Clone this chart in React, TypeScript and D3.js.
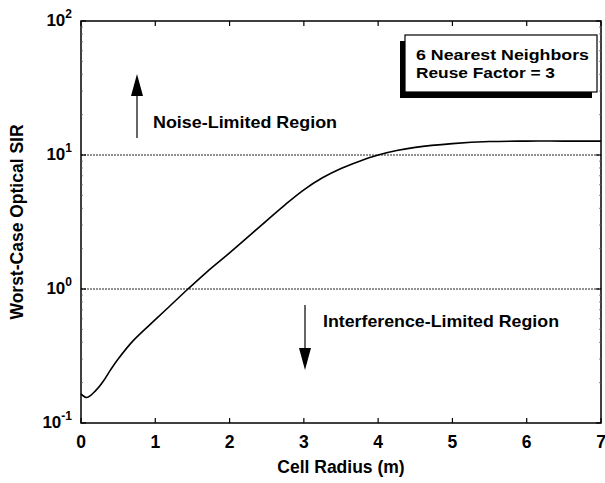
import React from 'react';
import * as d3 from 'd3';

// curve
const radius = [0, 0.08, 0.2, 0.3, 0.4, 0.5, 0.7, 1.0, 1.2, 1.44, 1.7, 2.0, 2.5, 2.75, 3.0, 3.25, 3.5, 3.75, 4.0, 4.25, 4.5, 5.0, 5.5, 6.0, 6.5, 7.0];
const sir = [0.165, 0.155, 0.175, 0.205, 0.25, 0.3, 0.41, 0.59, 0.75, 1.0, 1.35, 1.86, 3.24, 4.27, 5.5, 6.76, 7.94, 9.0, 10.0, 10.8, 11.4, 12.15, 12.6, 12.7, 12.7, 12.7];

const xTicks = [0, 1, 2, 3, 4, 5, 6, 7];
const yDecades = [-1, 0, 1, 2];
const refLevels = [1, 10];
const legendLines = ['6 Nearest Neighbors', 'Reuse Factor = 3'];

const W = 605;
const H = 483;
const font = '"Liberation Sans", Arial, Helvetica, sans-serif';

const App = () => {
  const x = d3.scaleLinear().domain([0, 7]).range([81, 601]);
  const y = d3.scaleLog().domain([0.1, 100]).range([423, 21]);

  const pts = radius.map((r, i) => [r, sir[i]] as [number, number]);
  const line = d3
    .line<[number, number]>()
    .x(d => x(d[0]))
    .y(d => y(d[1]))
    .curve(d3.curveCatmullRom.alpha(0.5));

  const minorTicks: number[] = [];
  for (let e = -1; e < 2; e++) {
    for (let m = 2; m < 10; m++) minorTicks.push(m * Math.pow(10, e));
  }

  const [x0, x1] = x.range();
  const [y0, y1] = y.range();

  return (
    <svg
      width={W}
      height={H}
      style={{ position: 'absolute', left: 0, top: 0, background: '#fff' }}
      fontFamily={font}
      fontWeight="bold"
    >
      {/* reference levels */}
      {refLevels.map(v => (
        <line
          key={v}
          x1={x0}
          x2={x1}
          y1={y(v)}
          y2={y(v)}
          stroke="#222"
          strokeWidth={1}
          strokeDasharray="2,1"
        />
      ))}

      {/* curve */}
      <path d={line(pts) || ''} fill="none" stroke="#000" strokeWidth={1.6} />

      {/* frame */}
      <rect x={x0} y={y1} width={x1 - x0} height={y0 - y1} fill="none" stroke="#000" strokeWidth={1.5} />

      {/* x ticks, bottom and top */}
      {xTicks.map(t => (
        <g key={t}>
          <line x1={x(t)} x2={x(t)} y1={y0} y2={y0 - 5} stroke="#000" strokeWidth={1.2} />
          <line x1={x(t)} x2={x(t)} y1={y1} y2={y1 + 5} stroke="#000" strokeWidth={1.2} />
          <text x={x(t)} y={y0 + 25} textAnchor="middle" fontSize={17.5}>
            {t}
          </text>
        </g>
      ))}

      {/* y ticks */}
      {yDecades.map(e => (
        <g key={e}>
          <line x1={x0} x2={x0 + 5} y1={y(Math.pow(10, e))} y2={y(Math.pow(10, e))} stroke="#000" strokeWidth={1.2} />
          <line x1={x1} x2={x1 - 5} y1={y(Math.pow(10, e))} y2={y(Math.pow(10, e))} stroke="#000" strokeWidth={1.2} />
          <text x={72} y={y(Math.pow(10, e)) + 5} textAnchor="end" fontSize={17}>
            10
            <tspan dy={-8} fontSize={12}>
              {e}
            </tspan>
          </text>
        </g>
      ))}
      {minorTicks.map(v => (
        <g key={v}>
          <line x1={x0} x2={x0 + 2} y1={y(v)} y2={y(v)} stroke="#666" strokeWidth={0.8} />
          <line x1={x1} x2={x1 - 2} y1={y(v)} y2={y(v)} stroke="#666" strokeWidth={0.8} />
        </g>
      ))}

      {/* axis titles */}
      <text x={(x0 + x1) / 2} y={473} textAnchor="middle" fontSize={17.5}>
        Cell Radius (m)
      </text>
      <text
        transform={`translate(23, ${(y0 + y1) / 2}) rotate(-90)`}
        textAnchor="middle"
        fontSize={17.5}
      >
        Worst-Case Optical SIR
      </text>

      {/* noise-limited arrow */}
      <line x1={137} x2={137} y1={138} y2={94} stroke="#000" strokeWidth={1.2} />
      <path d="M137,74 L131,96 L143,96 Z" fill="#000" />
      <text x={153} y={128} fontSize={16.5} textLength={184} lengthAdjust="spacingAndGlyphs">
        Noise-Limited Region
      </text>

      {/* interference-limited arrow */}
      <line x1={305} x2={305} y1={305} y2={350} stroke="#000" strokeWidth={1.2} />
      <path d="M305,370 L299,348 L311,348 Z" fill="#000" />
      <text x={323} y={327} fontSize={16.5} textLength={236} lengthAdjust="spacingAndGlyphs">
        Interference-Limited Region
      </text>

      {/* legend box with shadow */}
      <rect x={400} y={41} width={192} height={57} fill="#000" />
      <rect x={405} y={35} width={192} height={57} fill="#fff" stroke="#000" strokeWidth={1.2} />
      <text x={416} y={60} fontSize={15.5} textLength={173} lengthAdjust="spacingAndGlyphs">
        {legendLines[0]}
      </text>
      <text x={416} y={78} fontSize={15.5} textLength={139} lengthAdjust="spacingAndGlyphs">
        {legendLines[1]}
      </text>
    </svg>
  );
};

export default App;
